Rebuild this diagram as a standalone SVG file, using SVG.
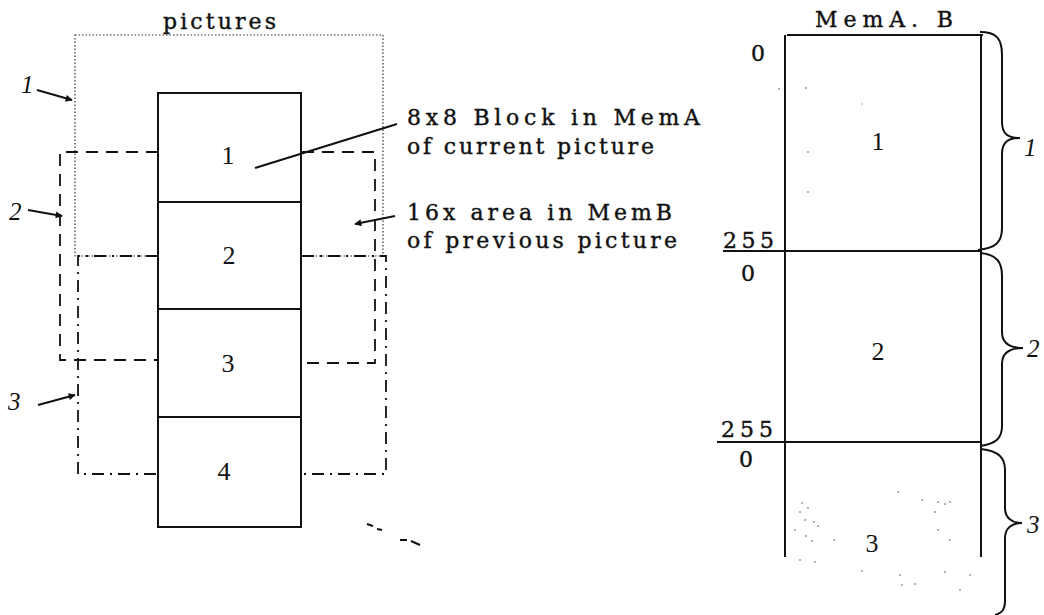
<svg xmlns="http://www.w3.org/2000/svg" width="1044" height="615" viewBox="0 0 1044 615">
<style>
text{font-family:"Liberation Serif","Times New Roman",serif;fill:#111}
.lbl{font-family:"DejaVu Serif","Liberation Serif",serif;font-size:22px;stroke:#111;stroke-width:0.4}
.num{font-size:26px;text-anchor:middle}
.mn{font-family:"DejaVu Serif","Liberation Serif",serif;font-size:22px;text-anchor:middle;stroke:#111;stroke-width:0.4}
.mnl{font-family:"DejaVu Serif","Liberation Serif",serif;font-size:22px;stroke:#111;stroke-width:0.4}
.it{font-style:italic;font-size:25px}
.blk{fill:#fff;stroke:#111;stroke-width:2}
.ln{stroke:#111;stroke-width:2;fill:none}
.dot{stroke:#333;stroke-width:1.2;fill:none;stroke-dasharray:1.5 2}
.dash{stroke:#111;stroke-width:1.8;fill:none;stroke-dasharray:12 8}
.dd{stroke:#111;stroke-width:1.8;fill:none;stroke-dasharray:12 6 2 6}
</style>
<defs>
<marker id="ah" viewBox="0 0 10 10" refX="9" refY="5" markerWidth="9" markerHeight="7" orient="auto" markerUnits="userSpaceOnUse">
<path d="M0,0 L10,5 L0,10 Z" fill="#111"/>
</marker>
</defs>
<rect width="1044" height="615" fill="#fff"/>
<text x="163" y="29" class="lbl" textLength="113" lengthAdjust="spacing">pictures</text>
<g id="areas">
<rect id="area1" x="75" y="35" width="308" height="221" class="dot"/>
<path id="area2" d="M158,152 H60 V360 H158 M302,152 H375 V363 H302" class="dash"/>
<path id="area3" d="M158,256 H78 V474 H158 M302,256 H386 V474 H302" class="dd"/>
</g>
<g id="blocks">
<g id="blk1"><rect x="158" y="93" width="143" height="109" class="blk"/><text x="228" y="164" class="num">1</text></g>
<g id="blk2"><rect x="158" y="202" width="143" height="107" class="blk"/><text x="229" y="264" class="num">2</text></g>
<g id="blk3"><rect x="158" y="309" width="143" height="108" class="blk"/><text x="228" y="372" class="num">3</text></g>
<g id="blk4"><rect x="158" y="417" width="143" height="110" class="blk"/><text x="224" y="480" class="num">4</text></g>
</g>
<g id="left-labels">
<text x="21" y="93" class="it">1</text>
<text x="9" y="220" class="it">2</text>
<text x="8" y="410" class="it">3</text>
</g>
<g id="texts">
<text x="407" y="125" class="lbl" textLength="293" lengthAdjust="spacing">8x8 Block in MemA</text>
<text x="407" y="154" class="lbl" textLength="247" lengthAdjust="spacing">of current picture</text>
<text x="407" y="220" class="lbl" textLength="265" lengthAdjust="spacing">16x area in MemB</text>
<text x="407" y="248" class="lbl" textLength="270" lengthAdjust="spacing">of previous picture</text>
</g>
<g id="connectors">
<path d="M37,90 L72,100" class="ln" marker-end="url(#ah)"/>
<path d="M28,210 L62,216" class="ln" marker-end="url(#ah)"/>
<path d="M38,405 L75,395" class="ln" marker-end="url(#ah)"/>
<path d="M255,168 L397,124" class="ln" stroke-width="1.8"/>
<path d="M395,216 L355,224" class="ln" stroke-width="1.8" marker-end="url(#ah)"/>
<path d="M367,524 L373,526 M377,529 L382,530 M400,540 L407,540 M411,541 L420,545" class="ln" stroke-width="1.8"/>
</g>
<text x="815" y="27" class="lbl" textLength="138" lengthAdjust="spacing">MemA. B</text>
<g id="mem">
<path d="M787,35 H983 M785,35 V557 M981,35 V557" class="ln"/>
<path d="M723,251 H981 M717,442 H981" class="ln"/>
<text x="758" y="61" class="mn">0</text>
<text x="723" y="248" class="mnl" textLength="51" lengthAdjust="spacing">255</text>
<text x="748" y="281" class="mn">0</text>
<text x="878" y="150" class="num">1</text>
<text x="878" y="360" class="num">2</text>
<text x="721" y="437" class="mnl" textLength="52" lengthAdjust="spacing">255</text>
<text x="746" y="467" class="mn">0</text>
<text x="872" y="552" class="num">3</text>
<g fill="#999">
<circle cx="779" cy="89" r="1"/><circle cx="806" cy="88" r="1"/><circle cx="808" cy="152" r="1"/><circle cx="808" cy="192" r="1"/><circle cx="862" cy="104" r="0.8"/>
<circle cx="800" cy="512" r="1"/><circle cx="808" cy="508" r="1"/><circle cx="805" cy="520" r="1"/><circle cx="814" cy="522" r="1"/><circle cx="795" cy="530" r="1"/><circle cx="806" cy="536" r="1"/><circle cx="812" cy="541" r="1"/><circle cx="834" cy="540" r="1"/><circle cx="802" cy="503" r="1"/><circle cx="818" cy="526" r="1"/>
<circle cx="898" cy="492" r="1"/><circle cx="922" cy="500" r="1"/><circle cx="938" cy="502" r="1"/><circle cx="950" cy="502" r="1"/><circle cx="935" cy="512" r="1"/><circle cx="938" cy="530" r="1"/><circle cx="950" cy="540" r="1"/><circle cx="945" cy="504" r="1"/>
<circle cx="800" cy="560" r="1"/><circle cx="815" cy="562" r="1"/><circle cx="862" cy="571" r="1"/><circle cx="900" cy="575" r="1"/><circle cx="915" cy="584" r="1"/><circle cx="945" cy="572" r="1"/><circle cx="970" cy="575" r="1"/><circle cx="960" cy="590" r="1"/><circle cx="902" cy="585" r="1"/>
</g>
</g>
<g id="braces">
<path d="M980,32 C996,32 1002,38 1002,55 L1002,122 C1002,134 1008,138 1020,138 C1008,138 1002,142 1002,154 L1002,228 C1002,242 996,248 978,250" class="ln"/>
<path d="M981,253 C997,255 1002,262 1002,276 L1002,332 C1002,344 1010,348 1023,348 C1010,348 1002,352 1002,364 L1002,426 C1002,438 996,444 980,446" class="ln"/>
<path d="M981,449 C999,451 1005,458 1005,470 L1005,508 C1005,518 1012,523 1022,523 C1012,523 1005,528 1005,538 L1005,600 C1005,610 1002,613 995,615" class="ln"/>
</g>
<g id="brace-labels">
<text x="1024" y="156" class="it">1</text>
<text x="1027" y="357" class="it" font-size="22">2</text>
<text x="1027" y="533" class="it" font-size="22">3</text>
</g>
</svg>
